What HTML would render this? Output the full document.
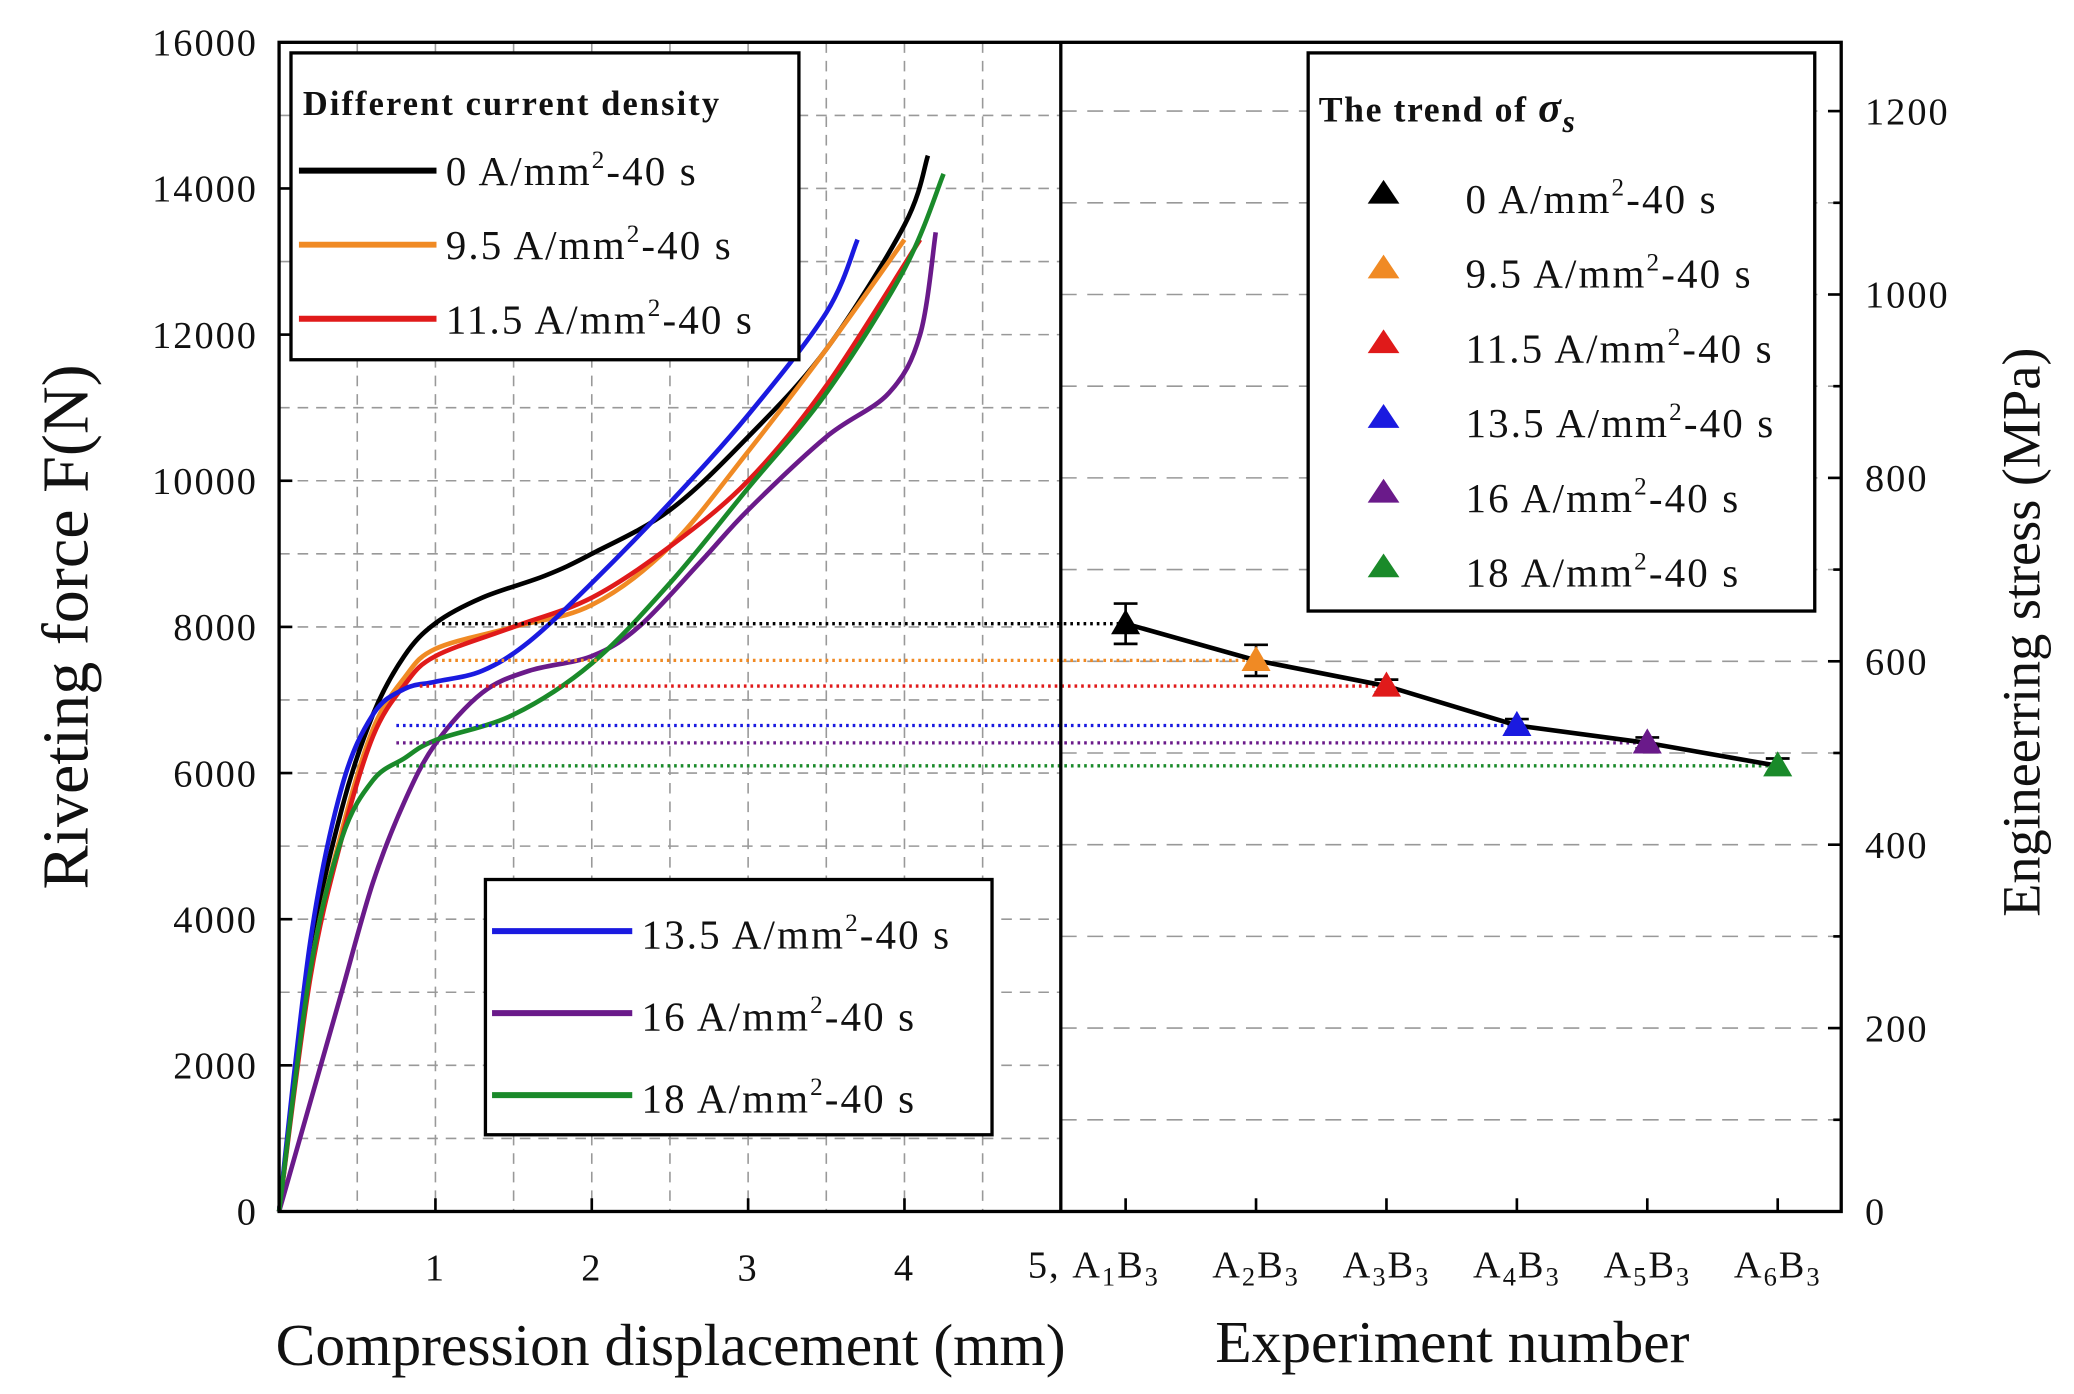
<!DOCTYPE html>
<html><head><meta charset="utf-8"><style>
html,body{margin:0;padding:0;background:#fff}
svg{display:block}
text{font-family:"Liberation Serif",serif;fill:#111}
</style></head><body>
<svg id="c" width="2074" height="1394" viewBox="0 0 1568 1054" preserveAspectRatio="none" xmlns="http://www.w3.org/2000/svg"></svg>
<script>
const seriesNames=["0 A/mm²-40 s","9.5 A/mm²-40 s","11.5 A/mm²-40 s","13.5 A/mm²-40 s","16 A/mm²-40 s","18 A/mm²-40 s"];
const colors=["#000","#f08a24","#e01a1a","#1a1ae0","#6a1a8a","#1a8a2a"];
const curve0=[[0,0],[0.2,3500],[0.4,5500],[0.6,6800],[0.8,7600],[1.0,8050],[1.3,8400],[1.7,8700],[2.0,9000],[2.5,9600],[3.0,10600],[3.5,11800],[4.0,13500],[4.15,14450]];
const curve1=[[0,0],[0.2,3300],[0.4,5200],[0.6,6600],[0.8,7300],[1.0,7700],[1.5,8000],[2.0,8300],[2.5,9100],[3.0,10400],[3.5,11800],[4.0,13300]];
const curve2=[[0,0],[0.2,3200],[0.4,5100],[0.6,6500],[0.8,7200],[1.0,7600],[1.5,8000],[2.0,8400],[2.5,9100],[3.0,10000],[3.5,11300],[4.1,13300]];
const curve3=[[0,0],[0.2,3700],[0.4,5800],[0.6,6800],[0.8,7150],[1.0,7250],[1.3,7400],[1.6,7800],[2.0,8600],[2.5,9700],[3.0,10900],[3.5,12300],[3.7,13300]];
const curve4=[[0,0],[0.2,1500],[0.4,3000],[0.6,4500],[0.8,5600],[1.0,6400],[1.3,7100],[1.6,7400],[2.0,7600],[2.3,8000],[2.7,8900],[3.0,9600],[3.5,10600],[3.9,11200],[4.1,12000],[4.2,13400]];
const curve5=[[0,0],[0.2,3300],[0.4,5100],[0.6,5900],[0.8,6200],[1.0,6450],[1.5,6800],[2.0,7500],[2.5,8600],[3.0,9900],[3.5,11200],[4.0,12900],[4.25,14200]];
const categories=["A1B3","A2B3","A3B3","A4B3","A5B3","A6B3"];
const stressValues=[641,601,573,530,511,486];
const stressErrors=[22,17,7,7,6,8];
const dottedStart=[1.0,1.0,0.9,0.75,0.75,0.75];
const yTicks=[0,2000,4000,6000,8000,10000,12000,14000,16000];
const xTicks=[1,2,3,4];
const rTicks=[0,200,400,600,800,1000,1200];

const S=document.getElementById('c');const NS="http://www.w3.org/2000/svg";
function el(t,a,p){const e=document.createElementNS(NS,t);for(const k in a)e.setAttribute(k,a[k]);(p||S).appendChild(e);return e;}
const L=211,R=1392,T=32,B=916,D=802;
const xs=v=>L+(D-L)*v/5, ys=v=>B-(B-T)*v/16000;
const rs=v=>B-(B-84)*v/1200;
const cx=i=>851+i*98.6;
const TK={'font-size':29,'letter-spacing':1.5};
for(let v=0.5;v<5;v+=0.5){const g=el('line',{x1:xs(v),x2:xs(v),y1:T,y2:B,stroke:'#999','stroke-width':1.2,'stroke-dasharray':'8,6'});}
for(let v=1000;v<16000;v+=1000){const g=el('line',{x1:L,x2:D,y1:ys(v),y2:ys(v),stroke:'#999','stroke-width':1.2,'stroke-dasharray':'8,6'});}
for(let v=100;v<1300;v+=100){const g=el('line',{x1:D,x2:R,y1:rs(v),y2:rs(v),stroke:'#999','stroke-width':1.2,'stroke-dasharray':'12,8'});}
yTicks.forEach(v=>{const t=el('text',Object.assign({x:L-16,y:ys(v)+10,'text-anchor':'end'},TK));t.textContent=v;el('line',{x1:L,x2:L+10,y1:ys(v),y2:ys(v),stroke:'#000','stroke-width':2});});
xTicks.forEach(v=>{const t=el('text',Object.assign({x:xs(v),y:968,'text-anchor':'middle'},TK));t.textContent=v;el('line',{x1:xs(v),x2:xs(v),y1:B,y2:B-10,stroke:'#000','stroke-width':2});});
rTicks.forEach(v=>{const t=el('text',Object.assign({x:R+18,y:rs(v)+10},TK));t.textContent=v;el('line',{x1:R,x2:R-10,y1:rs(v),y2:rs(v),stroke:'#000','stroke-width':2});});
for(let v=100;v<1300;v+=200)el('line',{x1:R,x2:R-6,y1:rs(v),y2:rs(v),stroke:'#000','stroke-width':2});
categories.forEach((c,i)=>{const t=el('text',Object.assign({x:cx(i),y:966,'text-anchor':'middle'},TK));t.innerHTML=(i==0?'<tspan>5, </tspan>':'')+c[0]+'<tspan font-size="20" dy="6">'+c[1]+'</tspan><tspan dy="-6">'+c[2]+'</tspan><tspan font-size="20" dy="6">'+c[3]+'</tspan>';if(i==0)t.setAttribute('x',cx(i)-24);el('line',{x1:cx(i),x2:cx(i),y1:B,y2:B-10,stroke:'#000','stroke-width':2});});
function cr(p){let d='M'+p[0][0]+','+p[0][1];for(let i=0;i<p.length-1;i++){const p0=p[i-1]||p[i],p1=p[i],p2=p[i+1],p3=p[i+2]||p2;d+=' C'+(p1[0]+(p2[0]-p0[0])/6)+','+(p1[1]+(p2[1]-p0[1])/6)+' '+(p2[0]-(p3[0]-p1[0])/6)+','+(p2[1]-(p3[1]-p1[1])/6)+' '+p2[0]+','+p2[1];}return d;}
[curve0,curve1,curve2,curve3,curve4,curve5].forEach((c,i)=>{const p=el('path',{d:cr(c.map(q=>[xs(q[0]),ys(q[1])])),fill:'none',stroke:colors[i],'stroke-width':3.5});});
stressValues.forEach((v,i)=>{const l=el('line',{x1:xs(dottedStart[i]),x2:cx(i),y1:rs(v),y2:rs(v),stroke:colors[i],'stroke-width':2.5,'stroke-dasharray':'2,3'});});
const tl=el('polyline',{points:stressValues.map((v,i)=>cx(i)+','+rs(v)).join(' '),fill:'none',stroke:'#000','stroke-width':3.5});
stressValues.forEach((v,i)=>{const x=cx(i),y=rs(v),e=stressErrors[i];
const g=el('g',{});
el('line',{x1:x,x2:x,y1:rs(v+e),y2:rs(v-e),stroke:'#000','stroke-width':2},g);
el('line',{x1:x-9,x2:x+9,y1:rs(v+e),y2:rs(v+e),stroke:'#000','stroke-width':2},g);
el('line',{x1:x-9,x2:x+9,y1:rs(v-e),y2:rs(v-e),stroke:'#000','stroke-width':2},g);
el('polygon',{points:`${x},${y-11} ${x-11},${y+8} ${x+11},${y+8}`,fill:colors[i]},g);});
el('rect',{x:L,y:T,width:R-L,height:B-T,fill:'none',stroke:'#000','stroke-width':2.5});
el('line',{x1:D,x2:D,y1:T,y2:B,stroke:'#000','stroke-width':2.5});
function box(x,y,w,h,name){const r=el('rect',{x:x,y:y,width:w,height:h,fill:'#fff',stroke:'#000','stroke-width':2.5});}
function sup(t){return t.replace('²','<tspan font-size="19" dy="-13">2</tspan><tspan dy="13">')+'</tspan>';}
const LG={'font-size':31,'letter-spacing':1.6};
box(220,40,384,232,'legend-left-top');
let t=el('text',{x:229,y:87,'font-size':26,'font-weight':'bold','letter-spacing':1.6});t.textContent='Different current density';
[0,1,2].forEach((i,k)=>{const y=129+k*56;el('line',{x1:226,x2:330,y1:y,y2:y,stroke:colors[i],'stroke-width':4.5});const s=el('text',Object.assign({x:337,y:y+11},LG));s.innerHTML=sup(seriesNames[i]);});
box(367,665,383,193,'legend-left-bottom');
[3,4,5].forEach((i,k)=>{const y=704+k*62;el('line',{x1:372,x2:478,y1:y,y2:y,stroke:colors[i],'stroke-width':4.5});const s=el('text',Object.assign({x:485,y:y+13},LG));s.innerHTML=sup(seriesNames[i]);});
box(989,40,383,422,'legend-right');
t=el('text',{x:997,y:92,'font-size':27,'font-weight':'bold','letter-spacing':1.2});t.innerHTML='The trend of <tspan font-style="italic" font-size="32">σ</tspan><tspan font-style="italic" font-size="24" dy="8">s</tspan>';
seriesNames.forEach((n,i)=>{const y=148+i*56.5;el('polygon',{points:`1046,${y-12} 1034,${y+6} 1058,${y+6}`,fill:colors[i]});const s=el('text',Object.assign({x:1108,y:y+13},LG));s.innerHTML=sup(n);});
t=el('text',{x:0,y:0,'font-size':50,'text-anchor':'middle',transform:'translate(66,474) rotate(-90)'});t.textContent='Riveting  force  F(N)';
t=el('text',{x:0,y:0,'font-size':41,'text-anchor':'middle',transform:'translate(1542,478) rotate(-90)'});t.textContent='Engineerring stress (MPa)';
t=el('text',{x:507,y:1032,'font-size':45,'text-anchor':'middle'});t.textContent='Compression displacement (mm)';
t=el('text',{x:1098,y:1030,'font-size':45,'text-anchor':'middle'});t.textContent='Experiment number';
</script>
</body></html>
